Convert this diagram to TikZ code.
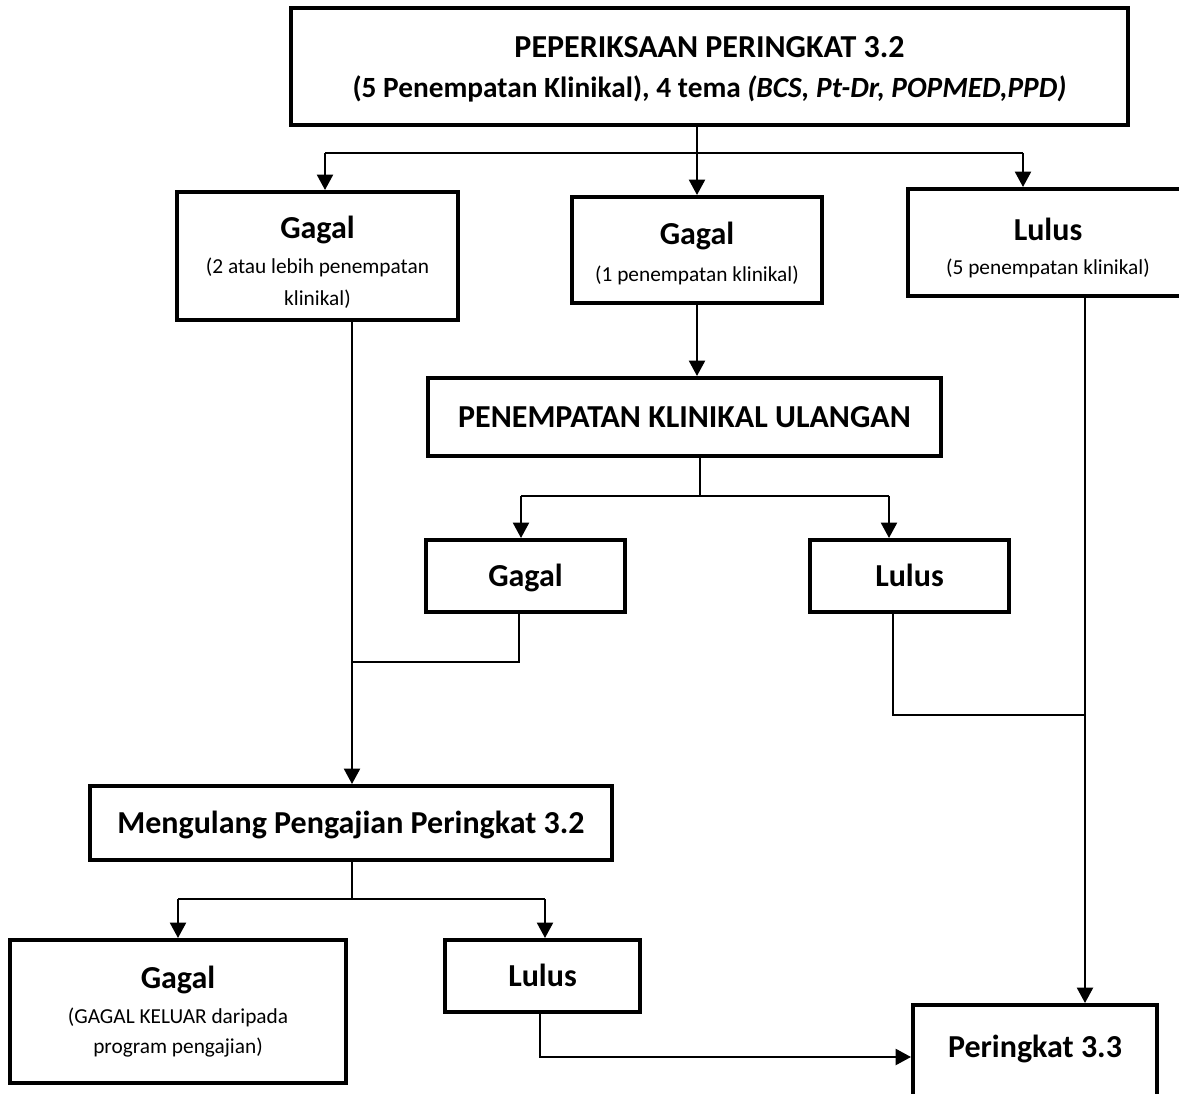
\documentclass[tikz,border=0pt]{standalone}
\usepackage{fontspec}
\setmainfont{Carlito}
\usetikzlibrary{arrows.meta}
\newcommand{\hdf}{\fontsize{24}{28}\selectfont\bfseries}
\newcommand{\tlf}{\fontsize{22}{26}\selectfont\bfseries}
\newcommand{\smf}{\fontsize{16}{22}\selectfont\mdseries}
\tikzset{
  box/.style={draw, line width=3pt, rectangle, inner sep=0pt, align=center, fill=white},
  single/.style={text height=16pt, text depth=0.5pt},
  conn/.style={line width=1.6pt},
  arr/.style={line width=1.6pt, -{Triangle[width=12pt,length=11.5pt]}},
}
\begin{document}
\begin{tikzpicture}[x=0.75pt,y=-0.75pt]
\useasboundingbox (0,0) rectangle (1179,1094);
% boxes
\node[box, minimum width=837*0.75pt, minimum height=117*0.75pt] (top) at (709.5,66.5)
  {\hdf\rule{0pt}{20pt}PEPERIKSAAN PERINGKAT 3.2\\[12pt] \tlf (5 Penempatan Klinikal), 4 tema \textit{(BCS, Pt-Dr, POPMED,PPD)}};
\node[box, minimum width=281*0.75pt, minimum height=128*0.75pt] (g1) at (317.5,256)
  {\hdf\rule{0pt}{26pt}Gagal\\[10pt] \smf (2 atau lebih penempatan\\[8.5pt] \smf klinikal)};
\node[box, minimum width=250*0.75pt, minimum height=106*0.75pt] (g2) at (697,250)
  {\hdf\rule{0pt}{22pt}Gagal\\[10.5pt] \smf (1 penempatan klinikal)};
\node[box, minimum width=280*0.75pt, minimum height=107*0.75pt] (l1) at (1048,242.5)
  {\hdf\rule{0pt}{25pt}Lulus\vphantom{g}\\[9pt] \smf (5 penempatan klinikal)};
\node[box, single, minimum width=513*0.75pt, minimum height=78*0.75pt] (pku) at (684.5,417)
  {\hdf PENEMPATAN KLINIKAL ULANGAN};
\node[box, single, minimum width=199*0.75pt, minimum height=72*0.75pt] (g3) at (525.5,576)
  {\hdf Gagal};
\node[box, single, minimum width=199*0.75pt, minimum height=72*0.75pt] (l3) at (909.5,576)
  {\hdf Lulus};
\node[box, single, minimum width=522*0.75pt, minimum height=74*0.75pt] (m) at (351,823)
  {\hdf Mengulang Pengajian Peringkat 3.2};
\node[box, minimum width=336*0.75pt, minimum height=143*0.75pt] (g4) at (178,1011.5)
  {\hdf Gagal\\[10pt] \smf (GAGAL KELUAR daripada\\[7pt] \smf program pengajian)};
\node[box, single, minimum width=195*0.75pt, minimum height=72*0.75pt] (l4) at (542.5,976)
  {\hdf Lulus};
\node[box, minimum width=244*0.75pt, minimum height=105*0.75pt, text height=16pt, text depth=16pt] (p) at (1035,1057.5)
  {\hdf Peringkat 3.3};
% junction coordinates
\coordinate (ja) at (325,153);
\coordinate (jb) at (1023,153);
\coordinate (jc) at (700,496);
\coordinate (jc1) at (521,496);
\coordinate (jc2) at (889,496);
\coordinate (jd) at (352,662);
\coordinate (je) at (519,662);
\coordinate (jf) at (893,715);
\coordinate (jg) at (1085,715);
\coordinate (jk) at (352,899);
\coordinate (jk1) at (178,899);
\coordinate (jk2) at (545,899);
\coordinate (jh) at (540,1057);
% connectors
\draw[arr] (g2.north |- top.south) -- (g2.north);
\draw[conn] (ja) -- (jb);
\draw[arr] (ja) -- (ja |- g1.north);
\draw[arr] (jb) -- (jb |- l1.north);
\draw[arr] (g2.south) -- (g2.south |- pku.north);
\draw[conn] (jc |- pku.south) -- (jc);
\draw[conn] (jc1) -- (jc2);
\draw[arr] (jc1) -- (jc1 |- g3.north);
\draw[arr] (jc2) -- (jc2 |- l3.north);
\draw[arr] (jd |- g1.south) -- (jd |- m.north);
\draw[conn] (je |- g3.south) -- (je) -- (jd);
\draw[conn] (jf |- l3.south) -- (jf) -- (jg);
\draw[arr] (jg |- l1.south) -- (jg |- p.north);
\draw[conn] (jk |- m.south) -- (jk);
\draw[conn] (jk1) -- (jk2);
\draw[arr] (jk1) -- (jk1 |- g4.north);
\draw[arr] (jk2) -- (jk2 |- l4.north);
\draw[arr] (jh |- l4.south) -- (jh) -- (jh -| p.west);
\end{tikzpicture}
\end{document}
